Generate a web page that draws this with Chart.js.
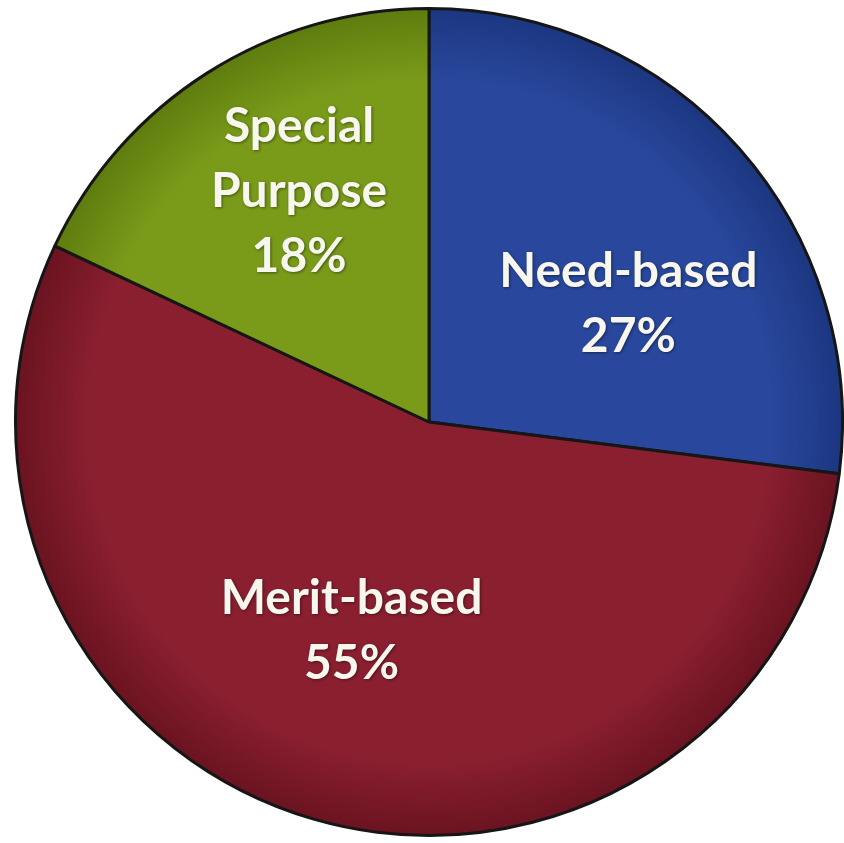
<!DOCTYPE html>
<html>
<head>
<meta charset="utf-8">
<script src="https://cdn.jsdelivr.net/npm/chart.js"></script>
<style>
  html, body { margin: 0; padding: 0; background: #fff; }
  #wrap { width: 844px; height: 843px; }
</style>
</head>
<body>
<div id="wrap"><canvas id="scholarshipChart"></canvas></div>
<script>
// data
const categories = ['Need-based', 'Merit-based', 'Special Purpose'];
const labelLines = [['Need-based'], ['Merit-based'], ['Special', 'Purpose']];
const shares = [27, 55, 18];

// slice colours: [centre, rim]
const sliceColours = [
    ['#29489d', '#1c3680'],
    ['#8a1f30', '#6a1320'],
    ['#7a9b1a', '#5d7c0e']
];

// where each label sits: fraction of radius, angle shift (deg) from slice middle
const labelSpot = [
    { r: 0.56, shift: 10.8 },
    { r: 0.54, shift: 4.1 },
    { r: 0.64, shift: 3.0 }
];

function sliceFill(ctx) {
    const chart = ctx.chart;
    const area = chart.chartArea;
    if (!area) return sliceColours[ctx.dataIndex][0];
    const cx = (area.left + area.right) / 2;
    const cy = (area.top + area.bottom) / 2;
    const r = Math.min(area.width, area.height) / 2;
    const g = chart.ctx.createRadialGradient(cx, cy, 0, cx, cy, r);
    const c = sliceColours[ctx.dataIndex];
    g.addColorStop(0, c[0]);
    g.addColorStop(0.82, c[0]);
    g.addColorStop(1, c[1]);
    return g;
}

const sliceLabels = {
    id: 'sliceLabels',
    afterDatasetsDraw(chart) {
        const ctx = chart.ctx;
        const meta = chart.getDatasetMeta(0);
        ctx.save();
        ctx.font = 'bold 48px Lato';
        ctx.fillStyle = '#f7f7ee';
        ctx.textAlign = 'center';
        ctx.textBaseline = 'middle';
        ctx.shadowColor = 'rgba(0,0,0,0.45)';
        ctx.shadowBlur = 3;
        ctx.shadowOffsetX = 1;
        ctx.shadowOffsetY = 1;
        meta.data.forEach((arc, i) => {
            const p = arc.getProps(['x', 'y', 'startAngle', 'endAngle', 'outerRadius'], true);
            const spot = labelSpot[i];
            const a = (p.startAngle + p.endAngle) / 2 + spot.shift * Math.PI / 180;
            const x = p.x + Math.cos(a) * p.outerRadius * spot.r;
            const y = p.y + Math.sin(a) * p.outerRadius * spot.r;
            const lines = labelLines[i].concat([shares[i] + '%']);
            const lh = 65;
            const top = y - (lines.length - 1) * lh / 2;
            lines.forEach((t, k) => ctx.fillText(t, x, top + k * lh));
        });
        ctx.restore();
    }
};

new Chart(document.getElementById('scholarshipChart'), {
    type: 'pie',
    data: {
        labels: categories,
        datasets: [{
            data: shares,
            backgroundColor: sliceFill,
            borderColor: '#161616',
            borderWidth: 3
        }]
    },
    options: {
        responsive: true,
        maintainAspectRatio: false,
        animation: false,
        layout: { padding: { left: 14, right: 0, top: 7, bottom: 6 } },
        plugins: {
            legend: { display: false },
            tooltip: { enabled: false }
        }
    },
    plugins: [sliceLabels]
});
</script>
</body>
</html>
